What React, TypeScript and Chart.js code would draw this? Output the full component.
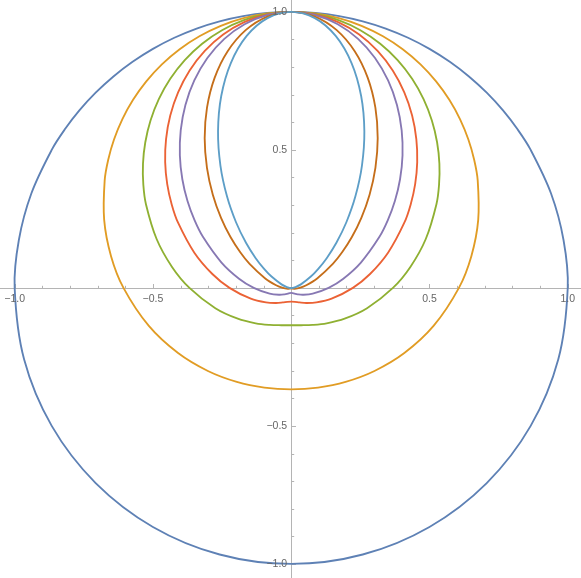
import React, { useEffect, useRef } from "react";
import { Chart, registerables } from "chart.js";

Chart.register(...registerables);

// polar angles (degrees) at which the right half of each closed curve was read
const ANGLES = [-90, -75, -60, -45, -30, -15, 0, 10, 20, 30, 35, 40, 45, 50, 55, 60, 65, 70, 75, 80, 85, 90];

// radius of each curve at those angles (curves are mirror-symmetric about the y axis)
const R_BLUE = [1, 1, 1, 1, 1, 1, 1, 1, 1, 1, 1, 1, 1, 1, 1, 1, 1, 1, 1, 1, 1, 1];
const R_ORANGE = [0.3679, 0.3742, 0.3934, 0.4259, 0.4724, 0.5329, 0.6065, 0.6615, 0.7197, 0.7788, 0.808, 0.8364, 0.8638, 0.8896, 0.9135, 0.9352, 0.9542, 0.9703, 0.9831, 0.9924, 0.9981, 1];
const R_GREEN = [0.1353, 0.14, 0.1547, 0.1814, 0.2231, 0.284, 0.3679, 0.4376, 0.5179, 0.6065, 0.6528, 0.6996, 0.7461, 0.7914, 0.8346, 0.8746, 0.9106, 0.9415, 0.9665, 0.9849, 0.9962, 1];
const R_RED = [0.0498, 0.0524, 0.0609, 0.0773, 0.1054, 0.1513, 0.2231, 0.2895, 0.3727, 0.4724, 0.5275, 0.5852, 0.6445, 0.704, 0.7624, 0.8179, 0.8689, 0.9135, 0.9502, 0.9775, 0.9943, 1];
const R_PURPLE = [0.0183, 0.0196, 0.0239, 0.0329, 0.0498, 0.0807, 0.1353, 0.1915, 0.2682, 0.3679, 0.4262, 0.4895, 0.5567, 0.6263, 0.6965, 0.765, 0.8291, 0.8864, 0.9341, 0.9701, 0.9924, 1];
const R_BROWN = [0.0009, 0.001, 0.0015, 0.0025, 0.0052, 0.0122, 0.0302, 0.0554, 0.0999, 0.1738, 0.2248, 0.2865, 0.3588, 0.4409, 0.531, 0.6257, 0.7204, 0.8097, 0.8876, 0.9482, 0.9867, 1];
const R_LIGHTBLUE = [0, 0.0001, 0.0001, 0.0002, 0.0006, 0.0018, 0.0067, 0.0161, 0.0373, 0.0821, 0.1186, 0.1676, 0.2312, 0.3104, 0.4048, 0.5118, 0.626, 0.7397, 0.8434, 0.9269, 0.9811, 1];

const SERIES = [R_BLUE, R_ORANGE, R_GREEN, R_RED, R_PURPLE, R_BROWN, R_LIGHTBLUE];
const COLORS = ["#5E81B5", "#E19C24", "#8FB032", "#EB6235", "#8778B3", "#C56E1A", "#5D9EC7"];

const MAJOR_TICKS = [-1, -0.5, 0.5, 1];
const MAJOR_LABELS = ["\u22121.0", "\u22120.5", "0.5", "1.0"];
const MINOR_TICKS = [-0.9, -0.8, -0.7, -0.6, -0.4, -0.3, -0.2, -0.1, 0.1, 0.2, 0.3, 0.4, 0.6, 0.7, 0.8, 0.9];

function buildLoop(radii: number[]) {
  const right = ANGLES.map((a, i) => {
    const t = (a * Math.PI) / 180;
    return { x: radii[i] * Math.cos(t), y: radii[i] * Math.sin(t) };
  });
  const left = right.map((p) => ({ x: -p.x, y: p.y }));
  const pts: { x: number; y: number }[] = [];
  pts.push(left[1]);
  for (let i = 0; i < right.length; i++) pts.push(right[i]);
  for (let i = left.length - 2; i >= 0; i--) pts.push(left[i]);
  pts.push(right[1]);
  return pts;
}

const axesPlugin = {
  id: "mmaAxes",
  beforeDatasetsDraw(chart: any) {
    const { ctx, chartArea, scales } = chart;
    const xs = scales.x;
    const ys = scales.y;
    const ox = Math.round(xs.getPixelForValue(0)) + 0.5;
    const oy = Math.round(ys.getPixelForValue(0)) + 0.5;
    ctx.save();
    ctx.strokeStyle = "#b4b4b4";
    ctx.lineWidth = 1;
    ctx.beginPath();
    ctx.moveTo(chartArea.left, oy);
    ctx.lineTo(chartArea.right, oy);
    ctx.moveTo(ox, chartArea.top);
    ctx.lineTo(ox, chartArea.bottom);
    ctx.stroke();
    ctx.beginPath();
    MAJOR_TICKS.forEach((v) => {
      const px = Math.round(xs.getPixelForValue(v)) + 0.5;
      ctx.moveTo(px, oy);
      ctx.lineTo(px, oy - 4.5);
      const py = Math.round(ys.getPixelForValue(v)) + 0.5;
      ctx.moveTo(ox, py);
      ctx.lineTo(ox + 4.5, py);
    });
    MINOR_TICKS.forEach((v) => {
      const px = Math.round(xs.getPixelForValue(v)) + 0.5;
      ctx.moveTo(px, oy);
      ctx.lineTo(px, oy - 2.7);
      const py = Math.round(ys.getPixelForValue(v)) + 0.5;
      ctx.moveTo(ox, py);
      ctx.lineTo(ox + 2.7, py);
    });
    ctx.stroke();
    ctx.restore();
  },
  afterDatasetsDraw(chart: any) {
    const { ctx, scales } = chart;
    const xs = scales.x;
    const ys = scales.y;
    const ox = xs.getPixelForValue(0);
    const oy = ys.getPixelForValue(0);
    ctx.save();
    ctx.fillStyle = "#666666";
    ctx.font = "10.5px 'Liberation Sans', Arial, sans-serif";
    ctx.textAlign = "center";
    ctx.textBaseline = "middle";
    MAJOR_TICKS.forEach((v, i) => {
      ctx.fillText(MAJOR_LABELS[i], xs.getPixelForValue(v), oy + 11);
    });
    ctx.textAlign = "right";
    MAJOR_TICKS.forEach((v, i) => {
      ctx.fillText(MAJOR_LABELS[i], ox - 4, ys.getPixelForValue(v) + 0.5);
    });
    ctx.restore();
  },
};

export default function App() {
  const ref = useRef<HTMLCanvasElement | null>(null);
  useEffect(() => {
    document.body.style.margin = "0";
    const canvas = ref.current;
    if (!canvas) return;
    const datasets = SERIES.map((r, i) => {
      const data = buildLoop(r);
      const n = data.length;
      return {
        data,
        showLine: true,
        borderColor: COLORS[i],
        backgroundColor: COLORS[i],
        borderWidth: 1.85,
        pointRadius: 0,
        pointHoverRadius: 0,
        tension: 0.34,
        fill: false,
        order: SERIES.length - i,
        segment: {
          borderColor: (c: any) =>
            c.p0DataIndex === 0 || c.p1DataIndex === n - 1 ? "rgba(0,0,0,0)" : undefined,
        },
      };
    });
    const chart = new Chart(canvas, {
      type: "scatter",
      data: { datasets },
      options: {
        animation: false,
        responsive: false,
        maintainAspectRatio: false,
        layout: { padding: 0 },
        plugins: { legend: { display: false }, tooltip: { enabled: false } },
        scales: {
          x: { type: "linear", min: -1.053, max: 1.048, display: false },
          y: { type: "linear", min: -1.051, max: 1.043, display: false },
        },
      },
      plugins: [axesPlugin],
    });
    return () => chart.destroy();
  }, []);
  return (
    <canvas ref={ref} width={581} height={578} style={{ display: "block", width: 581, height: 578 }} />
  );
}
